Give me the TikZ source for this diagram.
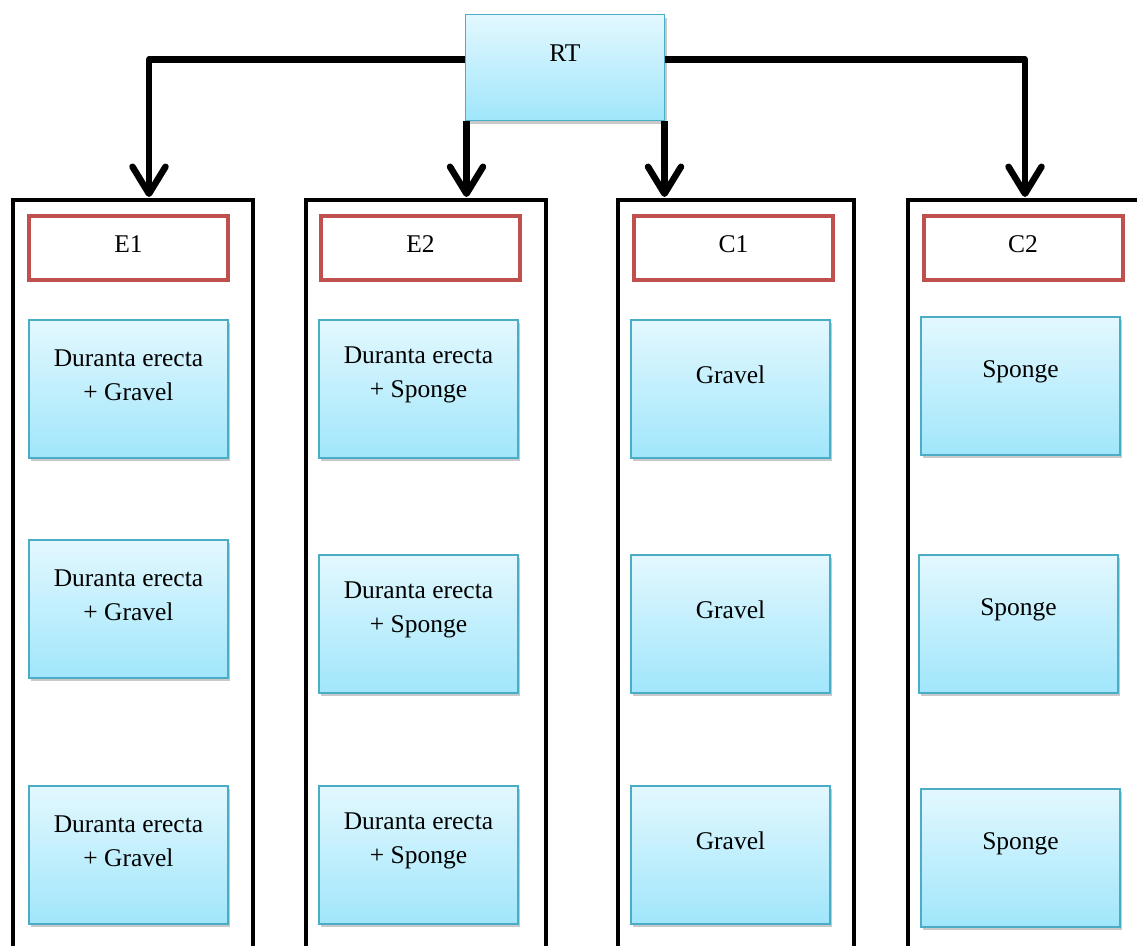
\documentclass[tikz,border=0pt]{standalone}
\usepackage{fontspec}
\setmainfont{Liberation Serif}
\usetikzlibrary{arrows.meta,shadows}
\definecolor{bborder}{HTML}{4BACC6}
\definecolor{btop}{HTML}{E3F8FE}
\definecolor{bbot}{HTML}{A0E6FB}
\definecolor{rborder}{HTML}{C0504D}
\tikzset{
  txt/.style={font=\fontsize{25.5}{34}\selectfont, align=center, text=black},
  bbox/.style={draw=bborder, line width=1.8pt, top color=btop, bottom color=bbot,
    minimum width=199pt, minimum height=138pt, inner sep=0pt,
    drop shadow={shadow xshift=2pt, shadow yshift=-3pt, opacity=0.3, fill=black!70}},
  btxt/.style={label={[txt, yshift=14pt]center:#1}},
  rbox/.style={draw=rborder, line width=4pt, fill=white, minimum width=199pt,
    minimum height=64pt, inner sep=0pt},
  colbox/.style={draw=black, line width=4pt, minimum height=900pt, anchor=north, inner sep=0pt},
  conn/.style={draw=black, line width=6.5pt, line join=round,
    -{Straight Barb[length=27pt, width=33pt, round]}},
}
\begin{document}
\begin{tikzpicture}[x=1pt, y=-1pt]
\useasboundingbox (0,0) rectangle (1137,945);

% columns (open at the bottom, beyond the page)
\node[colbox, minimum width=240pt] (col1) at (133,198) {};
\node[colbox, minimum width=240pt] (col2) at (426,198) {};
\node[colbox, minimum width=235.5pt] (col3) at (735.75,198) {};
\node[colbox, minimum width=300pt] (col4) at (1057.5,198) {};

% root
\node[bbox, minimum width=199pt, minimum height=106pt, btxt={RT}] (RT) at (565,67.5) {};

% arrow targets
\coordinate (t1) at (149,197);
\coordinate (t2) at (466.5,197);
\coordinate (t3) at (664.5,197);
\coordinate (t4) at (1025,197);

\draw[conn] ([yshift=8pt]RT.west) -| (t1);
\draw[conn] ([yshift=8pt]RT.east) -| (t4);
\draw[conn] (RT.south west -| t2) -- (t2);
\draw[conn] (RT.south east -| t3) -- (t3);

% group headers
\node[rbox, label={[txt, yshift=3pt]center:E1}] (E1) at (128.5,247.5) {};
\node[rbox, label={[txt, yshift=3pt]center:E2}] (E2) at (420.5,247.5) {};
\node[rbox, label={[txt, yshift=3pt]center:C1}] (C1) at (733.5,247.5) {};
\node[rbox, label={[txt, yshift=3pt]center:C2}] (C2) at (1023,247.5) {};

% column 1
\node[bbox, btxt={Duranta erecta\\+ Gravel}] (e1a) at (128.5,389) {};
\node[bbox, btxt={Duranta erecta\\+ Gravel}] (e1b) at (128.5,609) {};
\node[bbox, btxt={Duranta erecta\\+ Gravel}] (e1c) at (128.5,855) {};
% column 2
\node[bbox, btxt={Duranta erecta\\+ Sponge}] (e2a) at (418.5,389) {};
\node[bbox, btxt={Duranta erecta\\+ Sponge}] (e2b) at (418.5,624) {};
\node[bbox, btxt={Duranta erecta\\+ Sponge}] (e2c) at (418.5,855) {};
% column 3
\node[bbox, btxt={Gravel}] (c1a) at (730.5,389) {};
\node[bbox, btxt={Gravel}] (c1b) at (730.5,624) {};
\node[bbox, btxt={Gravel}] (c1c) at (730.5,855) {};
% column 4
\node[bbox, btxt={Sponge}] (c2a) at (1020.5,386) {};
\node[bbox, btxt={Sponge}] (c2b) at (1018.5,624) {};
\node[bbox, btxt={Sponge}] (c2c) at (1020.5,858) {};
\end{tikzpicture}
\end{document}
